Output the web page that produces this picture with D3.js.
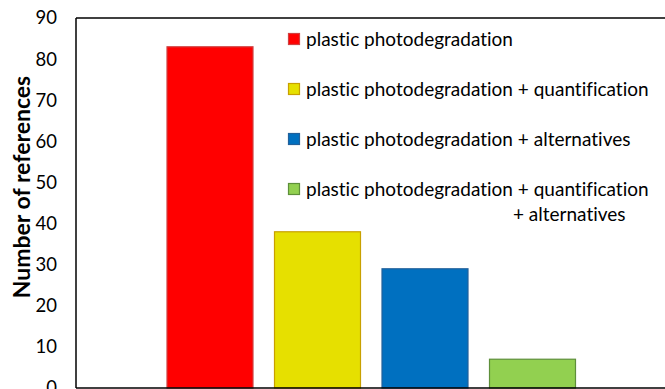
<!DOCTYPE html>
<html>
<head>
<meta charset="utf-8">
<script src="https://cdn.jsdelivr.net/npm/d3@7"></script>
<style>
  html, body { margin: 0; padding: 0; background: #fff; }
  svg { display: block; }
  text { font-family: Lato, "Open Sans", sans-serif; fill: #000; font-variant-ligatures: none; }
</style>
</head>
<body>
<svg id="chart" width="665" height="389"></svg>
<script>
// Number of references per topic combination
const categories = [
  "plastic photodegradation",
  "plastic photodegradation + quantification",
  "plastic photodegradation + alternatives",
  "plastic photodegradation + quantification + alternatives"
];
const counts = [83, 38, 29, 7];
const fills = ["#FF0000", "#E6E000", "#0070C0", "#92D050"];
const strokes = ["#D04040", "#C8A000", "#22609A", "#5E8F3A"];
const legendLines = [
  ["plastic photodegradation"],
  ["plastic photodegradation + quantification"],
  ["plastic photodegradation + alternatives"],
  ["plastic photodegradation + quantification", "+ alternatives"]
];
const yTicks = [0, 10, 20, 30, 40, 50, 60, 70, 80, 90];
const yTitle = "Number of references";

const svg = d3.select("#chart");
const plot = { left: 76, top: 18, right: 700, bottom: 388 };
const legendFont = "19px";

const x = d3.scaleBand()
  .domain(categories)
  .range([156.25, 586.25])
  .paddingInner(0.2)
  .paddingOuter(0.1);

const y = d3.scaleLinear()
  .domain([0, 90])
  .range([plot.bottom, plot.top]);

// bars
svg.append("g").selectAll("rect")
  .data(categories)
  .join("rect")
  .attr("x", d => x(d))
  .attr("y", (d, i) => y(counts[i]))
  .attr("width", x.bandwidth())
  .attr("height", (d, i) => y(0) - y(counts[i]))
  .attr("fill", (d, i) => fills[i])
  .attr("stroke", (d, i) => strokes[i])
  .attr("stroke-width", 1.2);

// plot frame
svg.append("line")
  .attr("x1", plot.left).attr("x2", plot.right)
  .attr("y1", plot.top).attr("y2", plot.top)
  .attr("stroke", "#000").attr("stroke-width", 1.5);
svg.append("line")
  .attr("x1", plot.left).attr("x2", plot.right)
  .attr("y1", plot.bottom).attr("y2", plot.bottom)
  .attr("stroke", "#000").attr("stroke-width", 1.5);
svg.append("line")
  .attr("x1", plot.left).attr("x2", plot.left)
  .attr("y1", plot.top).attr("y2", plot.bottom)
  .attr("stroke", "#000").attr("stroke-width", 1.5);

// y axis labels
const yAxis = svg.append("g")
  .attr("transform", `translate(${plot.left},0)`)
  .call(d3.axisLeft(y).tickValues(yTicks).tickSize(0).tickPadding(19));
yAxis.select(".domain").remove();
yAxis.selectAll("text")
  .style("font-family", "Lato, 'Open Sans', sans-serif")
  .style("font-size", "18.5px")
  .attr("fill", "#000");

// y axis title
svg.append("text")
  .attr("transform", "translate(30,187) rotate(-90)")
  .attr("text-anchor", "middle")
  .style("font-size", "23px")
  .style("font-weight", "bold")
  .text(yTitle);

// legend
const legend = svg.append("g");
const rowY = [39, 89, 139, 189];
legendLines.forEach((lines, i) => {
  const g = legend.append("g").attr("transform", `translate(288,${rowY[i]})`);
  g.append("rect")
    .attr("x", 0.5).attr("y", -5.5)
    .attr("width", 11).attr("height", 11)
    .attr("fill", fills[i])
    .attr("stroke", strokes[i])
    .attr("stroke-width", 1.2);
  g.append("text")
    .attr("x", 18).attr("y", 0)
    .attr("dy", "0.35em")
    .style("font-size", legendFont)
    .text(lines[0]);
  if (lines.length > 1) {
    // second line aligned under the "+" of the first line
    const tmp = g.append("text").style("font-size", legendFont).text(lines[0].split(" + ")[0] + " ");
    const offset = tmp.node().getComputedTextLength();
    tmp.remove();
    g.append("text")
      .attr("x", 18 + offset).attr("y", 25)
      .attr("dy", "0.35em")
      .style("font-size", legendFont)
      .text(lines[1]);
  }
});
</script>
</body>
</html>
